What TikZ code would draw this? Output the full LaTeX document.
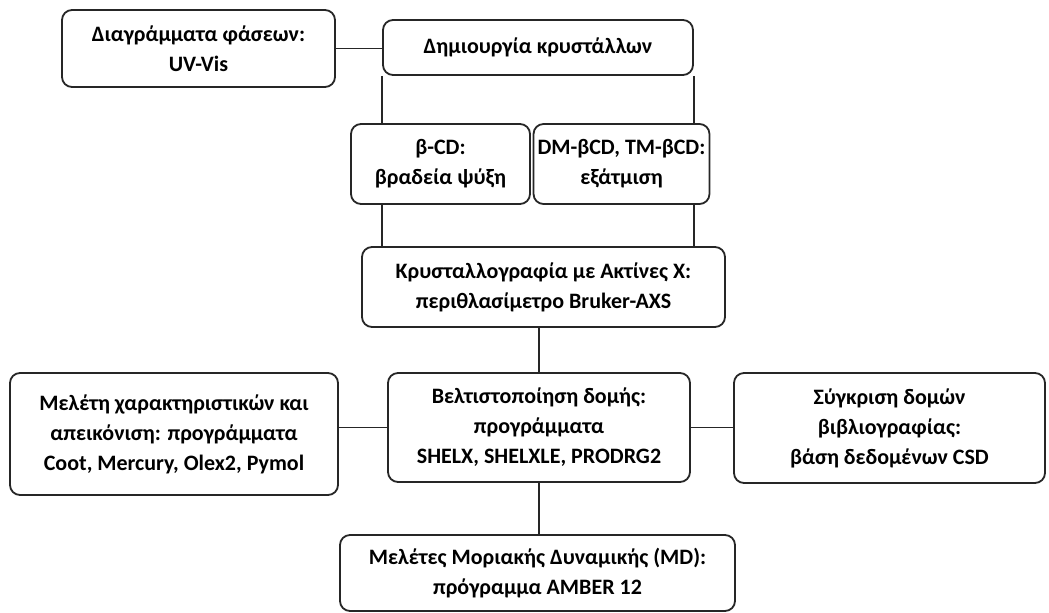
\documentclass[tikz,border=0pt]{standalone}
\usepackage{fontspec}
\setmainfont{Carlito}
\usepackage{tikz}
\usetikzlibrary{arrows.meta,positioning}

\begin{document}
\begin{tikzpicture}[
  x=0.5pt, y=-0.5pt,
  box/.style={rectangle, draw=black!85, line width=0.9pt, rounded corners=5pt, align=center,
    font=\fontsize{11}{15}\selectfont\bfseries, inner sep=2pt},
  link/.style={draw=black!85, line width=0.8pt}
]
\useasboundingbox (0,0) rectangle (1049,612);
% upper part
\node[box, minimum width=136.5pt, minimum height=38.5pt] (phase) at (198.5,48.5) {Διαγράμματα φάσεων:\\UV-Vis};
\node[box, minimum width=155pt, minimum height=27.5pt] (growth) at (538,47.5) {Δημιουργία κρυστάλλων};
\node[box, minimum width=89.5pt, minimum height=40pt] (slow) at (440.5,164) {β-CD:\\βραδεία ψύξη};
\node[box, minimum width=83.5pt, minimum height=40pt] (evap) at (621.5,164) {DM-βCD, TM-βCD:\\εξάτμιση};
\node[box, minimum width=181.5pt, minimum height=40pt] (xray) at (543.5,287) {Κρυσταλλογραφία με Ακτίνες Χ:\\περιθλασίμετρο Bruker-AXS};
% middle row
\node[box, minimum width=164pt, minimum height=61pt] (visual) at (174,434) {Μελέτη χαρακτηριστικών και\\απεικόνιση: προγράμματα\\Coot, Mercury, Olex2, Pymol};
\node[box, minimum width=151pt, minimum height=54.5pt] (refine) at (539,427.5) {Βελτιστοποίηση δομής:\\προγράμματα\\SHELX, SHELXLE, PRODRG2};
\node[box, minimum width=155.5pt, minimum height=55pt] (compare) at (889.5,428) {Σύγκριση δομών\\βιβλιογραφίας:\\βάση δεδομένων CSD};
% bottom
\node[box, minimum width=197.5pt, minimum height=38pt] (md) at (537.5,573) {Μελέτες Μοριακής Δυναμικής (MD):\\πρόγραμμα AMBER 12};

\draw[link] (phase.east) -- (phase.east -| growth.west);
\draw[link] (growth.south west) -- (growth.south west |- slow.north);
\draw[link] (growth.south east) -- (growth.south east |- evap.north);
\draw[link] (growth.south west |- slow.south) -- (growth.south west |- xray.north);
\draw[link] (growth.south east |- evap.south) -- (growth.south east |- xray.north);
\draw[link] (xray.south -| refine.north) -- (refine.north);
\draw[link] (visual.east |- refine.east) -- (refine.west);
\draw[link] (refine.east) -- (compare.west |- refine.east);
\draw[link] (refine.south) -- (md.north -| refine.south);
\end{tikzpicture}
\end{document}
